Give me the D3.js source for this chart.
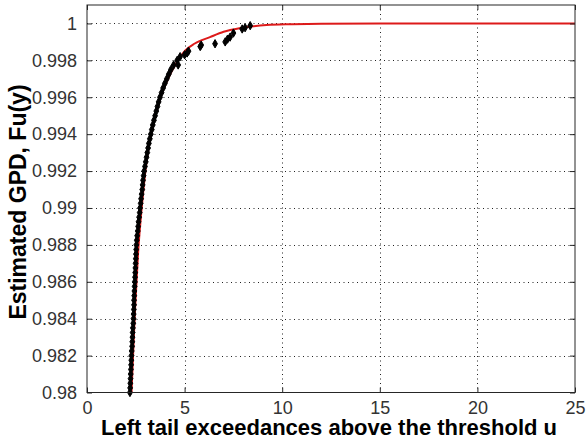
<!DOCTYPE html>
<html>
<head>
<meta charset="utf-8">
<script src="https://cdn.jsdelivr.net/npm/d3@7"></script>
<style>
  body { margin: 0; background: #fff; }
  svg { display: block; }
</style>
</head>
<body>
<svg id="chart" width="587" height="438"></svg>
<script>
// tick values
var xTicks = [0, 5, 10, 15, 20, 25];
var yTicks = [0.98, 0.982, 0.984, 0.986, 0.988, 0.99, 0.992, 0.994, 0.996, 0.998, 1];
var yTickLabels = ["0.98", "0.982", "0.984", "0.986", "0.988", "0.99", "0.992", "0.994", "0.996", "0.998", "1"];

// empirical exceedances (black markers)
var empX = [2.20, 2.21, 2.22, 2.23, 2.24, 2.25, 2.26, 2.27, 2.28, 2.29, 2.31, 2.32, 2.33, 2.34, 2.35, 2.37,
  2.38, 2.39, 2.40, 2.41, 2.41, 2.42, 2.43, 2.44, 2.45, 2.46, 2.47, 2.48, 2.49, 2.50, 2.51, 2.52,
  2.53, 2.55, 2.57, 2.60, 2.62, 2.64, 2.67, 2.70, 2.72, 2.75, 2.77, 2.80, 2.83, 2.85, 2.87, 2.90,
  2.93, 2.97, 3.01, 3.05, 3.09, 3.13, 3.17, 3.22, 3.27, 3.32, 3.37, 3.43, 3.49, 3.55, 3.61, 3.67,
  3.74, 3.82, 3.90, 3.99, 4.09, 4.19, 4.30, 4.44, 4.62, 4.77,
  4.67, 5.0, 5.13, 5.2, 5.8, 5.85, 6.56, 7.08, 7.2, 7.33, 7.5, 7.95, 8.1, 8.36];
var empY = [0.98000, 0.98025, 0.98050, 0.98075, 0.98100, 0.98125, 0.98150, 0.98175, 0.98200, 0.98225,
  0.98250, 0.98275, 0.98300, 0.98325, 0.98350, 0.98375, 0.98400, 0.98425, 0.98450, 0.98475,
  0.98500, 0.98525, 0.98550, 0.98575, 0.98600, 0.98625, 0.98650, 0.98675, 0.98700, 0.98725,
  0.98750, 0.98775, 0.98800, 0.98825, 0.98850, 0.98875, 0.98900, 0.98925, 0.98950, 0.98975,
  0.99000, 0.99025, 0.99050, 0.99075, 0.99100, 0.99125, 0.99150, 0.99175, 0.99200, 0.99225,
  0.99250, 0.99275, 0.99300, 0.99325, 0.99350, 0.99375, 0.99400, 0.99425, 0.99450, 0.99475,
  0.99500, 0.99525, 0.99550, 0.99575, 0.99600, 0.99625, 0.99650, 0.99675, 0.99700, 0.99725,
  0.99750, 0.99775, 0.99800, 0.99820,
  0.99775, 0.99830, 0.99840, 0.99850, 0.99875, 0.99883, 0.99890, 0.99900, 0.99915, 0.99926,
  0.99948, 0.99970, 0.99977, 0.99988];

// fitted GPD (red line)
var fitX = [2.28, 2.46, 2.62, 2.82, 3.05, 3.33, 3.8, 4.15, 4.6, 5.05, 5.5, 6.3, 7.0, 7.85, 9.2, 10.5, 12, 15, 20, 25];
var fitY = [0.98, 0.9845, 0.9876, 0.9902, 0.9925, 0.9942, 0.9961, 0.9970, 0.9979, 0.99855, 0.9989,
  0.99926, 0.99955, 0.99975, 0.99991, 0.99996, 0.99999, 1.0, 1.0, 1.0];

var xLabel = "Left tail exceedances above the threshold u";
var yLabel = "Estimated GPD, Fu(y)";

var svg = d3.select("#chart");
var plotL = 87, plotR = 575, plotT = 5, plotB = 392.5;

var x = d3.scaleLinear().domain([0, 25]).range([plotL, plotR]);
var y = d3.scaleLinear().domain([0.98, 1.001]).range([plotB, plotT]);

var axisColor = "#262626";

// grid
var grid = svg.append("g");
grid.selectAll(".gx").data(xTicks.slice(1, -1)).enter()
  .append("line")
  .attr("x1", function(d) { return Math.round(x(d)) + 0.5; })
  .attr("x2", function(d) { return Math.round(x(d)) + 0.5; })
  .attr("y1", plotT).attr("y2", plotB)
  .attr("stroke", "#222").attr("stroke-width", 1)
  .attr("stroke-dasharray", "1,3.5");
grid.selectAll(".gy").data(yTicks.slice(1)).enter()
  .append("line")
  .attr("x1", plotL).attr("x2", plotR)
  .attr("y1", function(d) { return Math.round(y(d)) + 0.5; })
  .attr("y2", function(d) { return Math.round(y(d)) + 0.5; })
  .attr("stroke", "#222").attr("stroke-width", 1)
  .attr("stroke-dasharray", "1,3.5");

// red fitted curve
var line = d3.line()
  .x(function(d) { return x(d[0]); })
  .y(function(d) { return y(d[1]); })
  .curve(d3.curveMonotoneX);

svg.append("path")
  .datum(d3.zip(fitX, fitY))
  .attr("d", line)
  .attr("fill", "none")
  .attr("stroke", "#dd1a1a")
  .attr("stroke-width", 2);

// black markers
var diamond = d3.symbol().type(d3.symbolDiamond).size(20);
svg.append("g").selectAll("path")
  .data(d3.zip(empX, empY)).enter()
  .append("path")
  .attr("d", diamond)
  .attr("transform", function(d) { return "translate(" + x(d[0]) + "," + y(d[1]) + ")"; })
  .attr("fill", "#000")
  .attr("stroke", "#000")
  .attr("stroke-width", 1);

// axes with inner ticks on all sides
var xAxisB = d3.axisBottom(x).tickValues(xTicks).tickSizeInner(-5).tickSizeOuter(0).tickPadding(9);
var xAxisT = d3.axisTop(x).tickValues(xTicks).tickSizeInner(-5).tickSizeOuter(0).tickFormat("");
var yAxisL = d3.axisLeft(y).tickValues(yTicks).tickSizeInner(-5).tickSizeOuter(0).tickPadding(10)
  .tickFormat(function(d, i) { return yTickLabels[i]; });
var yAxisR = d3.axisRight(y).tickValues(yTicks).tickSizeInner(-5).tickSizeOuter(0).tickFormat("");

function styleAxis(g) {
  g.select(".domain").remove();
  g.selectAll("line").attr("stroke", axisColor);
  g.selectAll("text")
    .attr("fill", "#333")
    .style("font-family", "Liberation Sans, Arial, sans-serif")
    .style("font-size", "18px");
}

svg.append("g").attr("transform", "translate(0," + plotB + ")").call(xAxisB).call(styleAxis);
svg.append("g").attr("transform", "translate(0," + plotT + ")").call(xAxisT).call(styleAxis);
svg.append("g").attr("transform", "translate(" + plotL + ",0)").call(yAxisL).call(styleAxis);
svg.append("g").attr("transform", "translate(" + plotR + ",0)").call(yAxisR).call(styleAxis);

// frame
svg.append("rect")
  .attr("x", plotL).attr("y", plotT)
  .attr("width", plotR - plotL).attr("height", plotB - plotT)
  .attr("fill", "none")
  .attr("stroke", axisColor)
  .attr("stroke-width", 1);

// labels
svg.append("text")
  .attr("x", (plotL + plotR) / 2 - 2)
  .attr("y", 435)
  .attr("text-anchor", "middle")
  .style("font-family", "Liberation Sans, Arial, sans-serif")
  .style("font-weight", "bold")
  .style("font-size", "22px")
  .text(xLabel);

svg.append("text")
  .attr("transform", "translate(26," + 202 + ") rotate(-90)")
  .attr("text-anchor", "middle")
  .style("font-family", "Liberation Sans, Arial, sans-serif")
  .style("font-weight", "bold")
  .style("font-size", "23px")
  .text(yLabel);
</script>
</body>
</html>
